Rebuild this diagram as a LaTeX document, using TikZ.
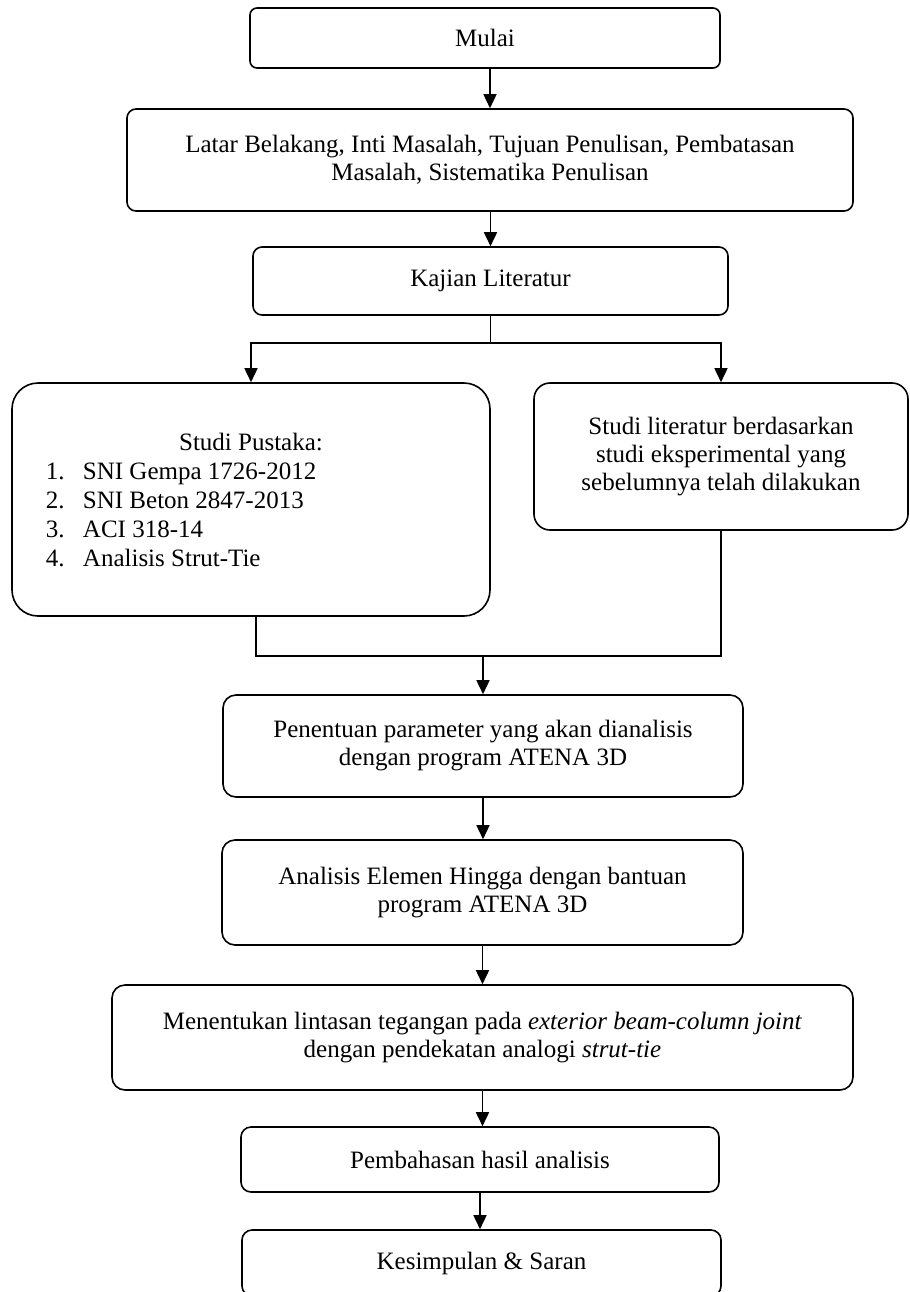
\documentclass[tikz,border=0pt]{standalone}
\usepackage{fontspec}
\setmainfont{Liberation Serif}
\usetikzlibrary{arrows.meta}
\newcommand\boxfont{\fontsize{12.5pt}{14pt}\selectfont}
\begin{document}
\begin{tikzpicture}[x=0.5pt,y=-0.5pt,
  box/.style={draw, line width=0.8pt, inner sep=0pt, align=center, font=\boxfont},
  conn/.style={line width=0.8pt},
  arr/.style={line width=0.8pt, -{Triangle[width=6.5pt,length=7pt]}}]
\useasboundingbox (0,0) rectangle (910,1292);
\fill[white] (0,0) rectangle (910,1292);
\clip (0,0) rectangle (910,1292);

\node[box, rounded corners=3.5pt, minimum width=235pt, minimum height=30pt] (mulai) at (485,38) {Mulai};
\node[box, rounded corners=4.5pt, minimum width=363pt, minimum height=51pt] (latar) at (490,160)
  {Latar Belakang, Inti Masalah, Tujuan Penulisan, Pembatasan\\Masalah, Sistematika Penulisan};
\node[box, rounded corners=4.5pt, minimum width=237.5pt, minimum height=34pt] (kajian) at (490.5,281) {Kajian Literatur};
\node[box, rounded corners=13pt, minimum width=239pt, minimum height=116.5pt] (pustaka) at (251,499.5)
  {\parbox{205pt}{\fontsize{12.5pt}{14.5pt}\selectfont
   {\centering Studi Pustaka:\par}
   \makebox[18.5pt][l]{1.}SNI Gempa 1726-2012\par
   \makebox[18.5pt][l]{2.}SNI Beton 2847-2013\par
   \makebox[18.5pt][l]{3.}ACI 318-14\par
   \makebox[18.5pt][l]{4.}Analisis Strut-Tie}};
\node[box, rounded corners=8pt, minimum width=187pt, minimum height=73.5pt] (studi) at (721,456.5)
  {Studi literatur berdasarkan\\studi eksperimental yang\\sebelumnya telah dilakukan};
\node[box, rounded corners=6.5pt, minimum width=260pt, minimum height=51pt] (penentuan) at (483,746)
  {Penentuan parameter yang akan dianalisis\\dengan program ATENA 3D};
\node[box, rounded corners=6.5pt, minimum width=260.5pt, minimum height=52.5pt] (analisis) at (482.5,892.5)
  {Analisis Elemen Hingga dengan bantuan\\program ATENA 3D};
\node[box, rounded corners=6.5pt, minimum width=370.5pt, minimum height=52.5pt] (menentukan) at (482.5,1037.5)
  {Menentukan lintasan tegangan pada \textit{exterior beam-column joint}\\dengan pendekatan analogi \textit{strut-tie}};
\node[box, rounded corners=5pt, minimum width=239pt, minimum height=32.5pt] (pembahasan) at (480,1159.5) {Pembahasan hasil analisis};
\node[box, rounded corners=5pt, minimum width=239.5pt, minimum height=33pt] (kesimpulan) at (481.5,1263) {Kesimpulan \& Saran};

\coordinate (split) at (490,343);
\coordinate (merge) at (483,656);

\draw[arr] (mulai.south -| latar.north) -- (latar.north);
\draw[arr] (latar.south -| kajian.north) -- (kajian.north);
\draw[conn] (kajian.south) -- (kajian.south |- split);
\draw[arr] (kajian.south |- split) -| (pustaka.north);
\draw[arr] (kajian.south |- split) -| (studi.north);
\draw[conn] ([xshift=2.5pt]pustaka.south) |- (merge -| studi.south) -- (studi.south);
\draw[arr] (penentuan.north |- merge) -- (penentuan.north);
\draw[arr] (penentuan.south) -- (penentuan.south |- analisis.north);
\draw[arr] (analisis.south) -- (analisis.south |- menentukan.north);
\draw[arr] (menentukan.south) -- (menentukan.south |- pembahasan.north);
\draw[arr] (pembahasan.south) -- (pembahasan.south |- kesimpulan.north);
\end{tikzpicture}
\end{document}
